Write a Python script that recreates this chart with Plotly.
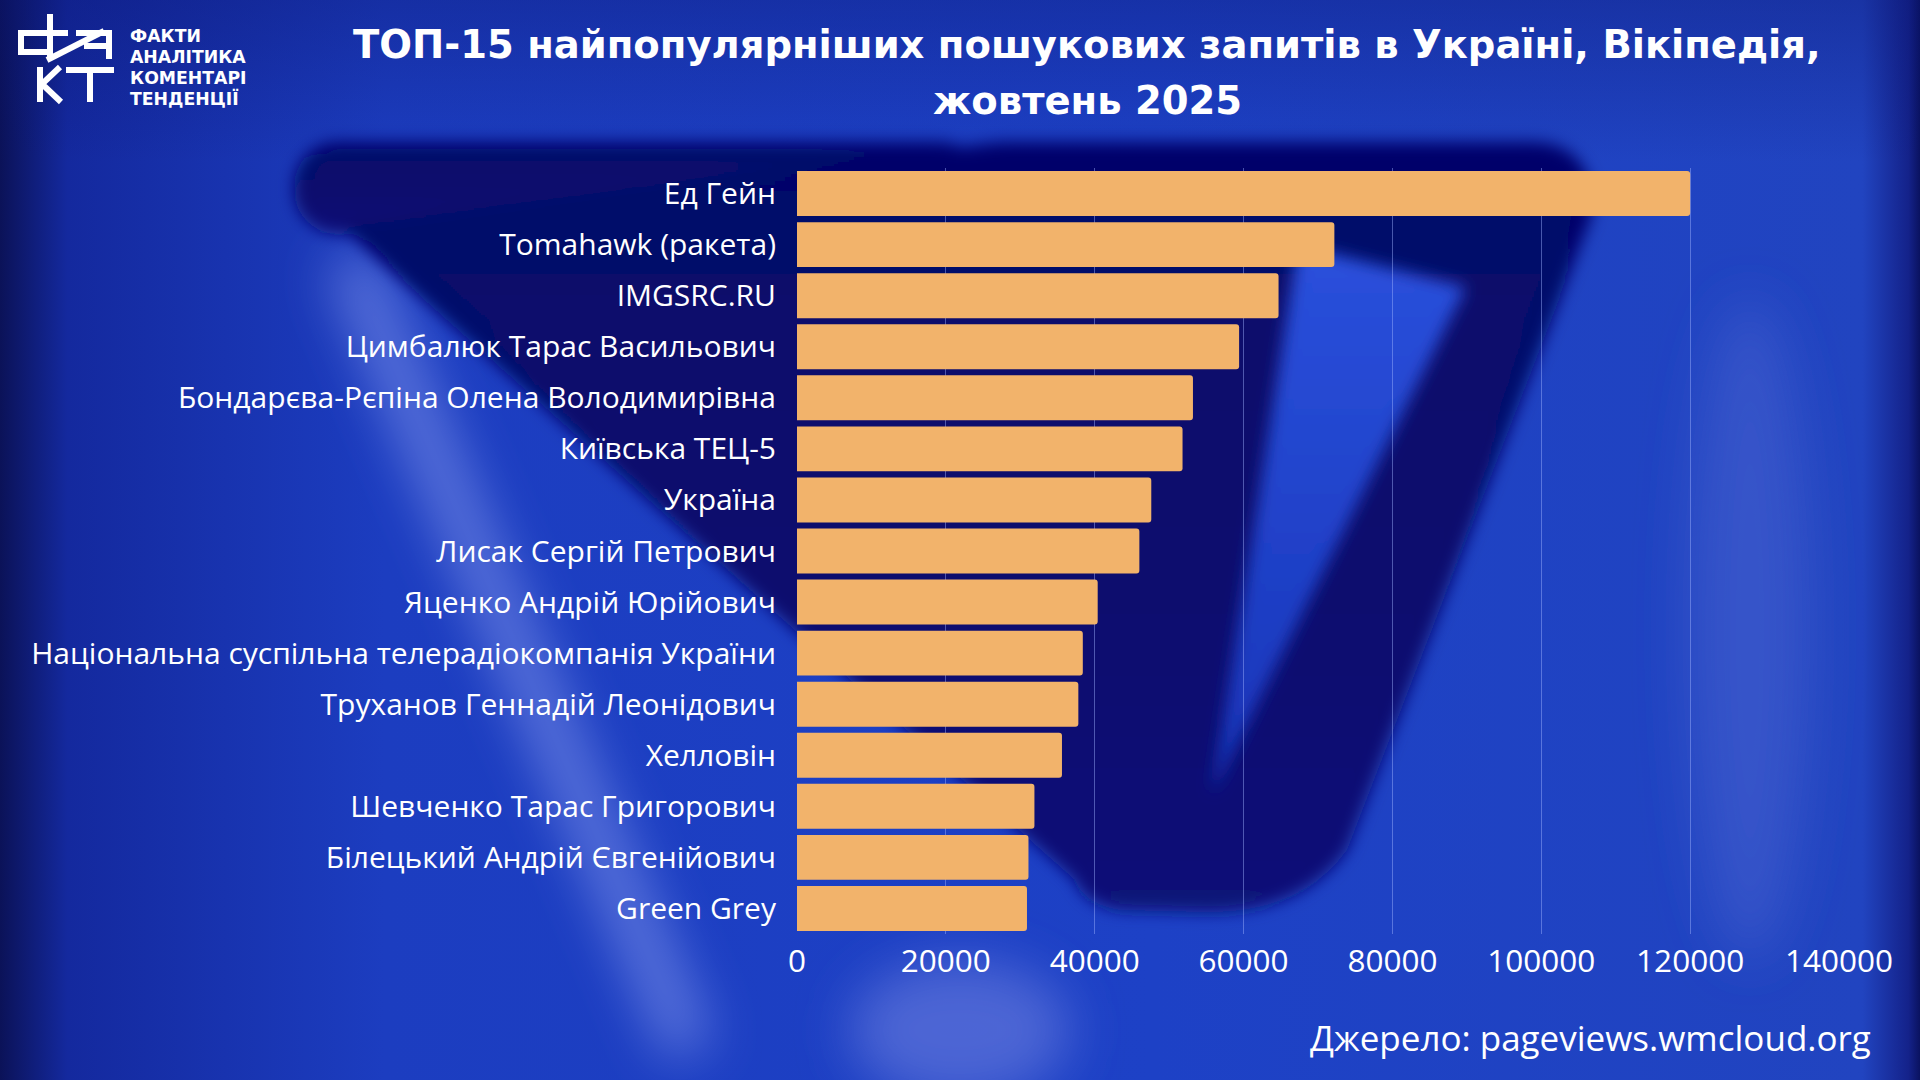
import base64
import plotly.graph_objects as go

# ---------------- data ----------------
categories = [
    "Ед Гейн",
    "Tomahawk (ракета)",
    "IMGSRC.RU",
    "Цимбалюк Тарас Васильович",
    "Бондарєва-Рєпіна Олена Володимирівна",
    "Київська ТЕЦ-5",
    "Україна",
    "Лисак Сергій Петрович",
    "Яценко Андрій Юрійович",
    "Національна суспільна телерадіокомпанія України",
    "Труханов Геннадій Леонідович",
    "Хелловін",
    "Шевченко Тарас Григорович",
    "Білецький Андрій Євгенійович",
    "Green Grey",
]
views = [120000, 72200, 64700, 59400, 53200, 51800, 47600, 46000,
         40400, 38400, 37800, 35600, 31900, 31100, 30900]
x_ticks = [0, 20000, 40000, 60000, 80000, 100000, 120000, 140000]

title_line1 = "ТОП-15 найпопулярніших пошукових запитів в Україні, Вікіпедія,"
title_line2 = "жовтень 2025"
source_text = "Джерело: pageviews.wmcloud.org"
logo_lines = ["ФАКТИ", "АНАЛІТИКА", "КОМЕНТАРІ", "ТЕНДЕНЦІЇ"]

# ---------------- geometry ----------------
W, H = 1920, 1080
L, R, T, B = 797, 81, 168, 146
PW, PH = W - L - R, H - T - B


def px(x):
    return (x - L) / PW


def py(y):
    return (H - B - y) / PH


# ---------------- background (decorative) ----------------
svg = f'''<svg xmlns="http://www.w3.org/2000/svg" width="{W}" height="{H}" viewBox="0 0 {W} {H}">
<defs>
<linearGradient id="bg" x1="0" y1="0" x2="1" y2="0">
 <stop offset="0" stop-color="#0b1258"/>
 <stop offset="0.035" stop-color="#14299e"/>
 <stop offset="0.2" stop-color="#1c3dc0"/>
 <stop offset="0.6" stop-color="#1d41c6"/>
 <stop offset="0.97" stop-color="#2144c0"/>
 <stop offset="0.994" stop-color="#14228a"/>
 <stop offset="1" stop-color="#0a1260"/>
</linearGradient>
<linearGradient id="vt" x1="0" y1="0" x2="0" y2="1">
 <stop offset="0" stop-color="#0a1470" stop-opacity="0.35"/>
 <stop offset="0.15" stop-color="#0a1470" stop-opacity="0"/>
 <stop offset="1" stop-color="#0a1470" stop-opacity="0"/>
</linearGradient>
<linearGradient id="tg" x1="0" y1="0" x2="0" y2="1">
 <stop offset="0" stop-color="#2a50dc"/>
 <stop offset="1" stop-color="#1734b8"/>
</linearGradient>
<linearGradient id="dk" x1="0" y1="0" x2="0" y2="1">
 <stop offset="0" stop-color="#06066a"/>
 <stop offset="0.6" stop-color="#07096e"/>
 <stop offset="1" stop-color="#0a1278"/>
</linearGradient>
<filter id="b1" x="-30%" y="-30%" width="160%" height="160%"><feGaussianBlur stdDeviation="8"/></filter>
<filter id="b2" x="-50%" y="-50%" width="200%" height="200%"><feGaussianBlur stdDeviation="26"/></filter>
</defs>
<rect width="{W}" height="{H}" fill="url(#bg)"/>
<rect width="{W}" height="{H}" fill="url(#vt)"/>
<g filter="url(#b2)">
 <line x1="350" y1="260" x2="690" y2="1050" stroke="#8a9cf0" stroke-width="48" stroke-opacity="0.6"/>
 <ellipse cx="960" cy="1030" rx="110" ry="70" fill="#5f75dc" fill-opacity="0.7"/>
 <ellipse cx="1750" cy="630" rx="60" ry="330" fill="#4760d0" fill-opacity="0.55"/>
</g>
<g filter="url(#b1)" fill="url(#dk)">
 <rect x="294" y="142" width="690" height="92" rx="44"/>
 <path d="M 340 225 L 1000 142 L 1530 142 Q 1595 142 1592 215 L 1347 850 Q 1300 915 1200 912 L 1120 910 Q 1085 905 1075 880 Z"/>
</g>
<g filter="url(#b1)">
 <polygon points="1298,245 1466,287 1212,794" fill="url(#tg)"/>
</g>
<g stroke="#ffffff" stroke-width="6" fill="none" stroke-linecap="butt">
 <line x1="50" y1="14" x2="50" y2="58"/>
 <polyline points="68,33 21,33 21,52 50,52"/>
 <line x1="47" y1="60" x2="104" y2="31"/>
 <polyline points="76,33 109,33 109,59"/>
 <line x1="84" y1="46" x2="109" y2="46"/>
 <line x1="40" y1="67" x2="40" y2="102"/>
 <polyline points="60,67 42,84 61,102"/>
 <line x1="66" y1="70" x2="114" y2="70"/>
 <line x1="90" y1="70" x2="90" y2="102"/>
</g>
</svg>'''
bg_uri = "data:image/svg+xml;base64," + base64.b64encode(svg.encode("utf-8")).decode()

# ---------------- figure ----------------
fig = go.Figure()
fig.add_trace(go.Bar(
    x=views,
    y=categories,
    orientation="h",
    marker=dict(color="#F2B36B", line=dict(width=0), cornerradius=3),
    hoverinfo="x+y",
))

fig.update_layout(
    width=W,
    height=H,
    margin=dict(l=L, r=R, t=T, b=B, pad=0),
    paper_bgcolor="#1d40c4",
    plot_bgcolor="rgba(0,0,0,0)",
    bargap=0.12,
    showlegend=False,
    font=dict(family="'Open Sans', Lato, sans-serif", color="#ffffff"),
    xaxis=dict(
        range=[0, 140000],
        tickvals=x_ticks,
        ticktext=[str(v) for v in x_ticks],
        showgrid=True,
        gridcolor="rgba(160,180,255,0.45)",
        gridwidth=1,
        zeroline=False,
        showline=False,
        tickfont=dict(size=31.5, color="#ffffff"),
        ticks="",
        ticklabelstandoff=5,
    ),
    yaxis=dict(
        autorange="reversed",
        showgrid=False,
        zeroline=False,
        showline=False,
        ticks="",
        tickfont=dict(size=30, color="#ffffff"),
        ticklabelstandoff=20,
    ),
    images=[dict(
        source=bg_uri,
        xref="paper", yref="paper",
        x=px(0), y=py(0),
        sizex=W / PW, sizey=H / PH,
        xanchor="left", yanchor="top",
        sizing="stretch",
        layer="below",
    )],
)

for text, ycen in [(title_line1, 45), (title_line2, 100)]:
    fig.add_annotation(
        text=text, x=px(1087), y=py(ycen),
        xref="paper", yref="paper", xanchor="center", yanchor="middle",
        showarrow=False,
        font=dict(family="DejaVu Sans", size=38.5, color="#ffffff", weight="bold"),
    )

for i, line in enumerate(logo_lines):
    fig.add_annotation(
        text=line, x=px(128), y=py(35.5 + 21 * i),
        xref="paper", yref="paper", xanchor="left", yanchor="middle",
        showarrow=False,
        font=dict(family="DejaVu Sans", size=17.3, color="#ffffff", weight="bold"),
    )

fig.add_annotation(
    text=source_text, x=px(1873), y=py(1037),
    xref="paper", yref="paper", xanchor="right", yanchor="middle",
    showarrow=False,
    font=dict(family="'Open Sans'", size=35, color="#ffffff"),
)

fig.write_html("out.html")
